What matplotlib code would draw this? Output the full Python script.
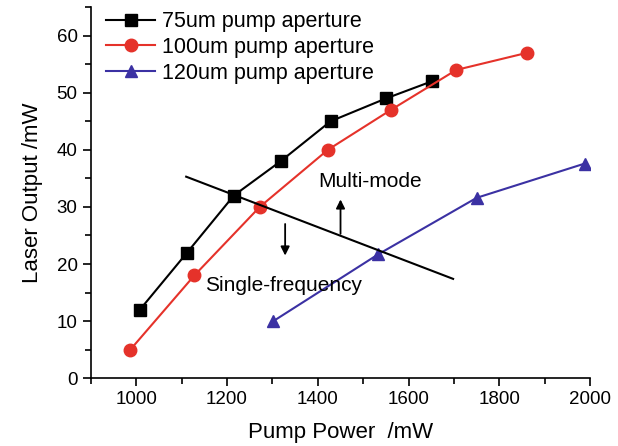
import matplotlib
matplotlib.use("Agg")
import matplotlib.pyplot as plt
from matplotlib.ticker import MultipleLocator

plt.rcParams['font.family'] = ['Liberation Sans', 'DejaVu Sans']

# data
p75 = [1008, 1112, 1215, 1318, 1428, 1550, 1651]
y75 = [12, 22, 32, 38, 45, 49, 52]
p100 = [987, 1128, 1272, 1422, 1561, 1705, 1861]
y100 = [5, 18, 30, 40, 47, 54, 57]
p120 = [1302, 1533, 1750, 1988]
y120 = [10, 21.7, 31.6, 37.6]

# boundary line between the two regimes
bound_x = [1110, 1698]
bound_y = [35.3, 17.4]


def main():
    fig = plt.figure(figsize=(6.18, 4.46), dpi=100)
    ax = fig.add_axes([0.147, 0.152, 0.808, 0.832])

    ax.plot(p75, y75, color='black', marker='s', ms=8, lw=1.5, label='75um pump aperture')
    ax.plot(p100, y100, color='#e5322a', marker='o', ms=9, lw=1.5, label='100um pump aperture')
    ax.plot(p120, y120, color='#3b31a3', marker='^', ms=9, lw=1.5, label='120um pump aperture')

    ax.plot(bound_x, bound_y, color='black', lw=1.5)
    ax.annotate('', xy=(1328, 21), xytext=(1328, 27.5),
                arrowprops=dict(arrowstyle='-|>', color='black', lw=1.3, mutation_scale=13))
    ax.annotate('', xy=(1450, 31.8), xytext=(1450, 24.8),
                arrowprops=dict(arrowstyle='-|>', color='black', lw=1.3, mutation_scale=13))
    ax.text(1400, 34.4, 'Multi-mode', fontsize=15, va='center')
    ax.text(1152, 16.3, 'Single-frequency', fontsize=15, va='center')

    ax.set_xlim(900, 2000)
    ax.set_ylim(0, 65)
    ax.xaxis.set_major_locator(MultipleLocator(200))
    ax.xaxis.set_minor_locator(MultipleLocator(100))
    ax.yaxis.set_major_locator(MultipleLocator(10))
    ax.yaxis.set_minor_locator(MultipleLocator(5))
    ax.tick_params(which='both', direction='out', labelsize=13.5, width=1.2)
    ax.tick_params(which='major', length=6)
    ax.tick_params(which='minor', length=4)
    ax.spines['top'].set_visible(False)
    ax.spines['right'].set_visible(False)
    ax.spines['left'].set_linewidth(1.2)
    ax.spines['bottom'].set_linewidth(1.2)

    ax.set_xlabel('Pump Power  /mW', fontsize=16, labelpad=10)
    ax.set_ylabel('Laser Output /mW', fontsize=16, labelpad=10)

    ax.legend(loc='upper left', bbox_to_anchor=(0.0, 1.03), frameon=False, fontsize=15.5,
              handlelength=2.3, handletextpad=0.3, labelspacing=0.22, borderaxespad=0.3)

    fig.savefig('out.png', dpi=100)


main()
